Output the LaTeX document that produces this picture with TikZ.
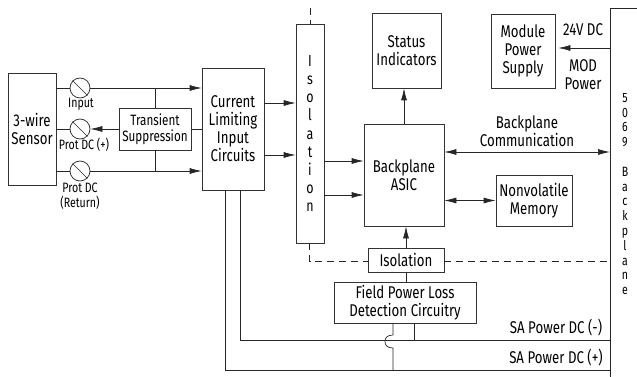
\documentclass[tikz,border=0pt]{standalone}
\usepackage{fontspec}
\setmainfont{Fira Sans}[FakeStretch=0.78]
\usetikzlibrary{arrows.meta}
\tikzset{
  block/.style={draw=black!80,line width=0.7pt,align=center,inner sep=0pt,font=\fontsize{17}{18}\selectfont},
  wire/.style={draw=black!85,line width=0.7pt},
  flow/.style={wire,-{Latex[length=12pt,width=6pt]}},
  biflow/.style={wire,{Latex[length=12pt,width=6pt]}-{Latex[length=12pt,width=6pt]}},
  iso/.style={wire,dash pattern=on 7pt off 5pt},
  fuse/.style={circle,draw=black!85,line width=0.7pt,minimum size=20pt,inner sep=0pt,fill=white},
  lbl/.style={align=center,inner sep=0pt,font=\fontsize{17}{18}\selectfont},
  small/.style={align=center,inner sep=0pt,font=\fontsize{13.6}{14.7}\selectfont}
}
\begin{document}
\begin{tikzpicture}[x=1pt,y=-1pt]
    \useasboundingbox (0,0) rectangle (637,377);

    % Field side blocks
    \node[block,minimum width=48pt,minimum height=112pt] (sensor) at (32,129) {3-wire\\Sensor};
    \node[block,minimum width=72pt,minimum height=42pt,font=\fontsize{15}{16.5}\selectfont] (trans) at (155,129) {Transient\\Suppression};
    \node[block,minimum width=62pt,minimum height=122pt] (cur) at (233,129) {Current\\Limiting\\Input\\Circuits};

    % Isolation bar
    \node[block,minimum width=28pt,minimum height=219pt] (isobar) at (310,133.5) {};
    \node[lbl,font=\fontsize{16}{18.1}\selectfont] (isotxt) at (310,133.5) {I\\s\\o\\l\\a\\t\\i\\o\\n};

    % Module blocks
    \node[block,minimum width=69pt,minimum height=75pt] (status) at (406.5,50.5) {Status\\Indicators};
    \node[block,minimum width=80pt,minimum height=102pt] (asic) at (404,175) {Backplane\\ASIC};
    \node[block,minimum width=64pt,minimum height=74pt] (supply) at (523,51) {Module\\Power\\Supply};
    \node[block,minimum width=76pt,minimum height=51pt] (nvm) at (534,200.5) {Nonvolatile\\Memory};
    \node[block,minimum width=76pt,minimum height=24pt] (isobox) at (406,260) {Isolation};
    \node[block,minimum width=142pt,minimum height=41pt] (field) at (405,302.5) {Field Power Loss\\Detection Circuitry};

    % Backplane edge
    \coordinate (bptop) at (637,8);
    \coordinate (bpcorner) at (610,8);
    \coordinate (bpend) at (610,377);
    \draw[wire] (bptop) -- (bpcorner) -- (bpend);
    \node[lbl,font=\fontsize{13.5}{14.8}\selectfont] (bptxt) at (625,194) {5\\0\\6\\9\\[14.8pt]B\\a\\c\\k\\p\\l\\a\\n\\e};

    % Terminals
    \node[fuse] (fin) at (80,88) {};
    \node[fuse] (fprot) at (80,129) {};
    \node[fuse] (fret) at (80,171) {};
    \foreach \f in {fin,fprot,fret}
        \draw[wire] (\f.north west) -- (\f.south east);
    \node[small] (lin) at (81,104) {Input};
    \node[small] (lprot) at (84,145) {Prot DC (+)};
    \node[small] (lret) at (80,196) {Prot DC\\(Return)};

    % Sensor to current limiting
    \draw[wire] (sensor.east |- fin) -- (fin);
    \draw[wire] (sensor.east |- fprot) -- (fprot);
    \draw[wire] (sensor.east |- fret) -- (fret);
    \draw[flow] (fin) -- (cur.west |- fin);
    \draw[flow] (fret) -- (cur.west |- fret);
    \draw[wire] (trans.north) -- (trans.north |- fin);
    \draw[wire] (trans.south) -- (trans.south |- fret);
    \draw[flow] (trans.west) -- (fprot);
    \draw[wire] (trans.east) -- (cur.west |- trans.east);

    % Through the isolation
    \coordinate (ca) at (264,103);
    \coordinate (cb) at (264,155);
    \coordinate (ia) at (324,161);
    \coordinate (ib) at (324,195);
    \draw[flow] (ca) -- (isobar.west |- ca);
    \draw[flow] (cb) -- (isobar.west |- cb);
    \draw[flow] (ia) -- (asic.west |- ia);
    \draw[flow] (ib) -- (asic.west |- ib);

    % Module connections
    \coordinate (asictop) at (404,124);
    \draw[flow] (asictop) -- (asictop |- status.south);
    \draw[flow] (isobox.north) -- (isobox.north |- asic.south);
    \draw[wire] (field.north -| isobox.south) -- (isobox.south);
    \coordinate (mod) at (610,48);
    \draw[flow] (mod) -- ([xshift=3pt]supply.east |- mod);
    \coordinate (comm) at (610,152);
    \draw[biflow] (asic.east |- comm) -- (comm);
    \draw[biflow] (asic.east |- nvm.west) -- (nvm.west);

    \node[lbl] (l24) at (583,30) {24V DC};
    \node[lbl] (lmod) at (583,75) {MOD\\Power};
    \node[lbl] (lcomm) at (527,131) {Backplane\\Communication};

    % Isolation barrier
    \coordinate (dtop) at (310,8);
    \coordinate (dturn) at (309.5,261.5);
    \coordinate (dend) at (607,261.5);
    \draw[iso] (dtop) -- (dtop |- isobar.north);
    \draw[iso] (dturn |- isobar.south) -- (dturn) -- (isobox.west |- dturn);
    \draw[iso] (isobox.east |- dturn) -- (dend);

    % SA power rails
    \coordinate (railn) at (610,340);
    \coordinate (railp) at (610,370);
    \coordinate (cn) at (240,190);
    \coordinate (cp) at (225,190);
    \coordinate (fp) at (393,323);
    \coordinate (fn) at (414,323);
    \draw[wire] (cn) -- (cn |- railn) -- (railn);
    \draw[wire] (cp) -- (cp |- railp) -- (railp);
    \draw[wire] (fn) -- (fn |- railn);
    \draw[wire] (fp) -- (393,335) .. controls (387,335) and (385,338) .. (385,341.5) .. controls (385,345) and (387,348) .. (393,348) -- (393,370);
    \node[lbl] (lsan) at (556,328) {SA Power DC (-)};
    \node[lbl] (lsap) at (556,358) {SA Power DC (+)};
\end{tikzpicture}
\end{document}
